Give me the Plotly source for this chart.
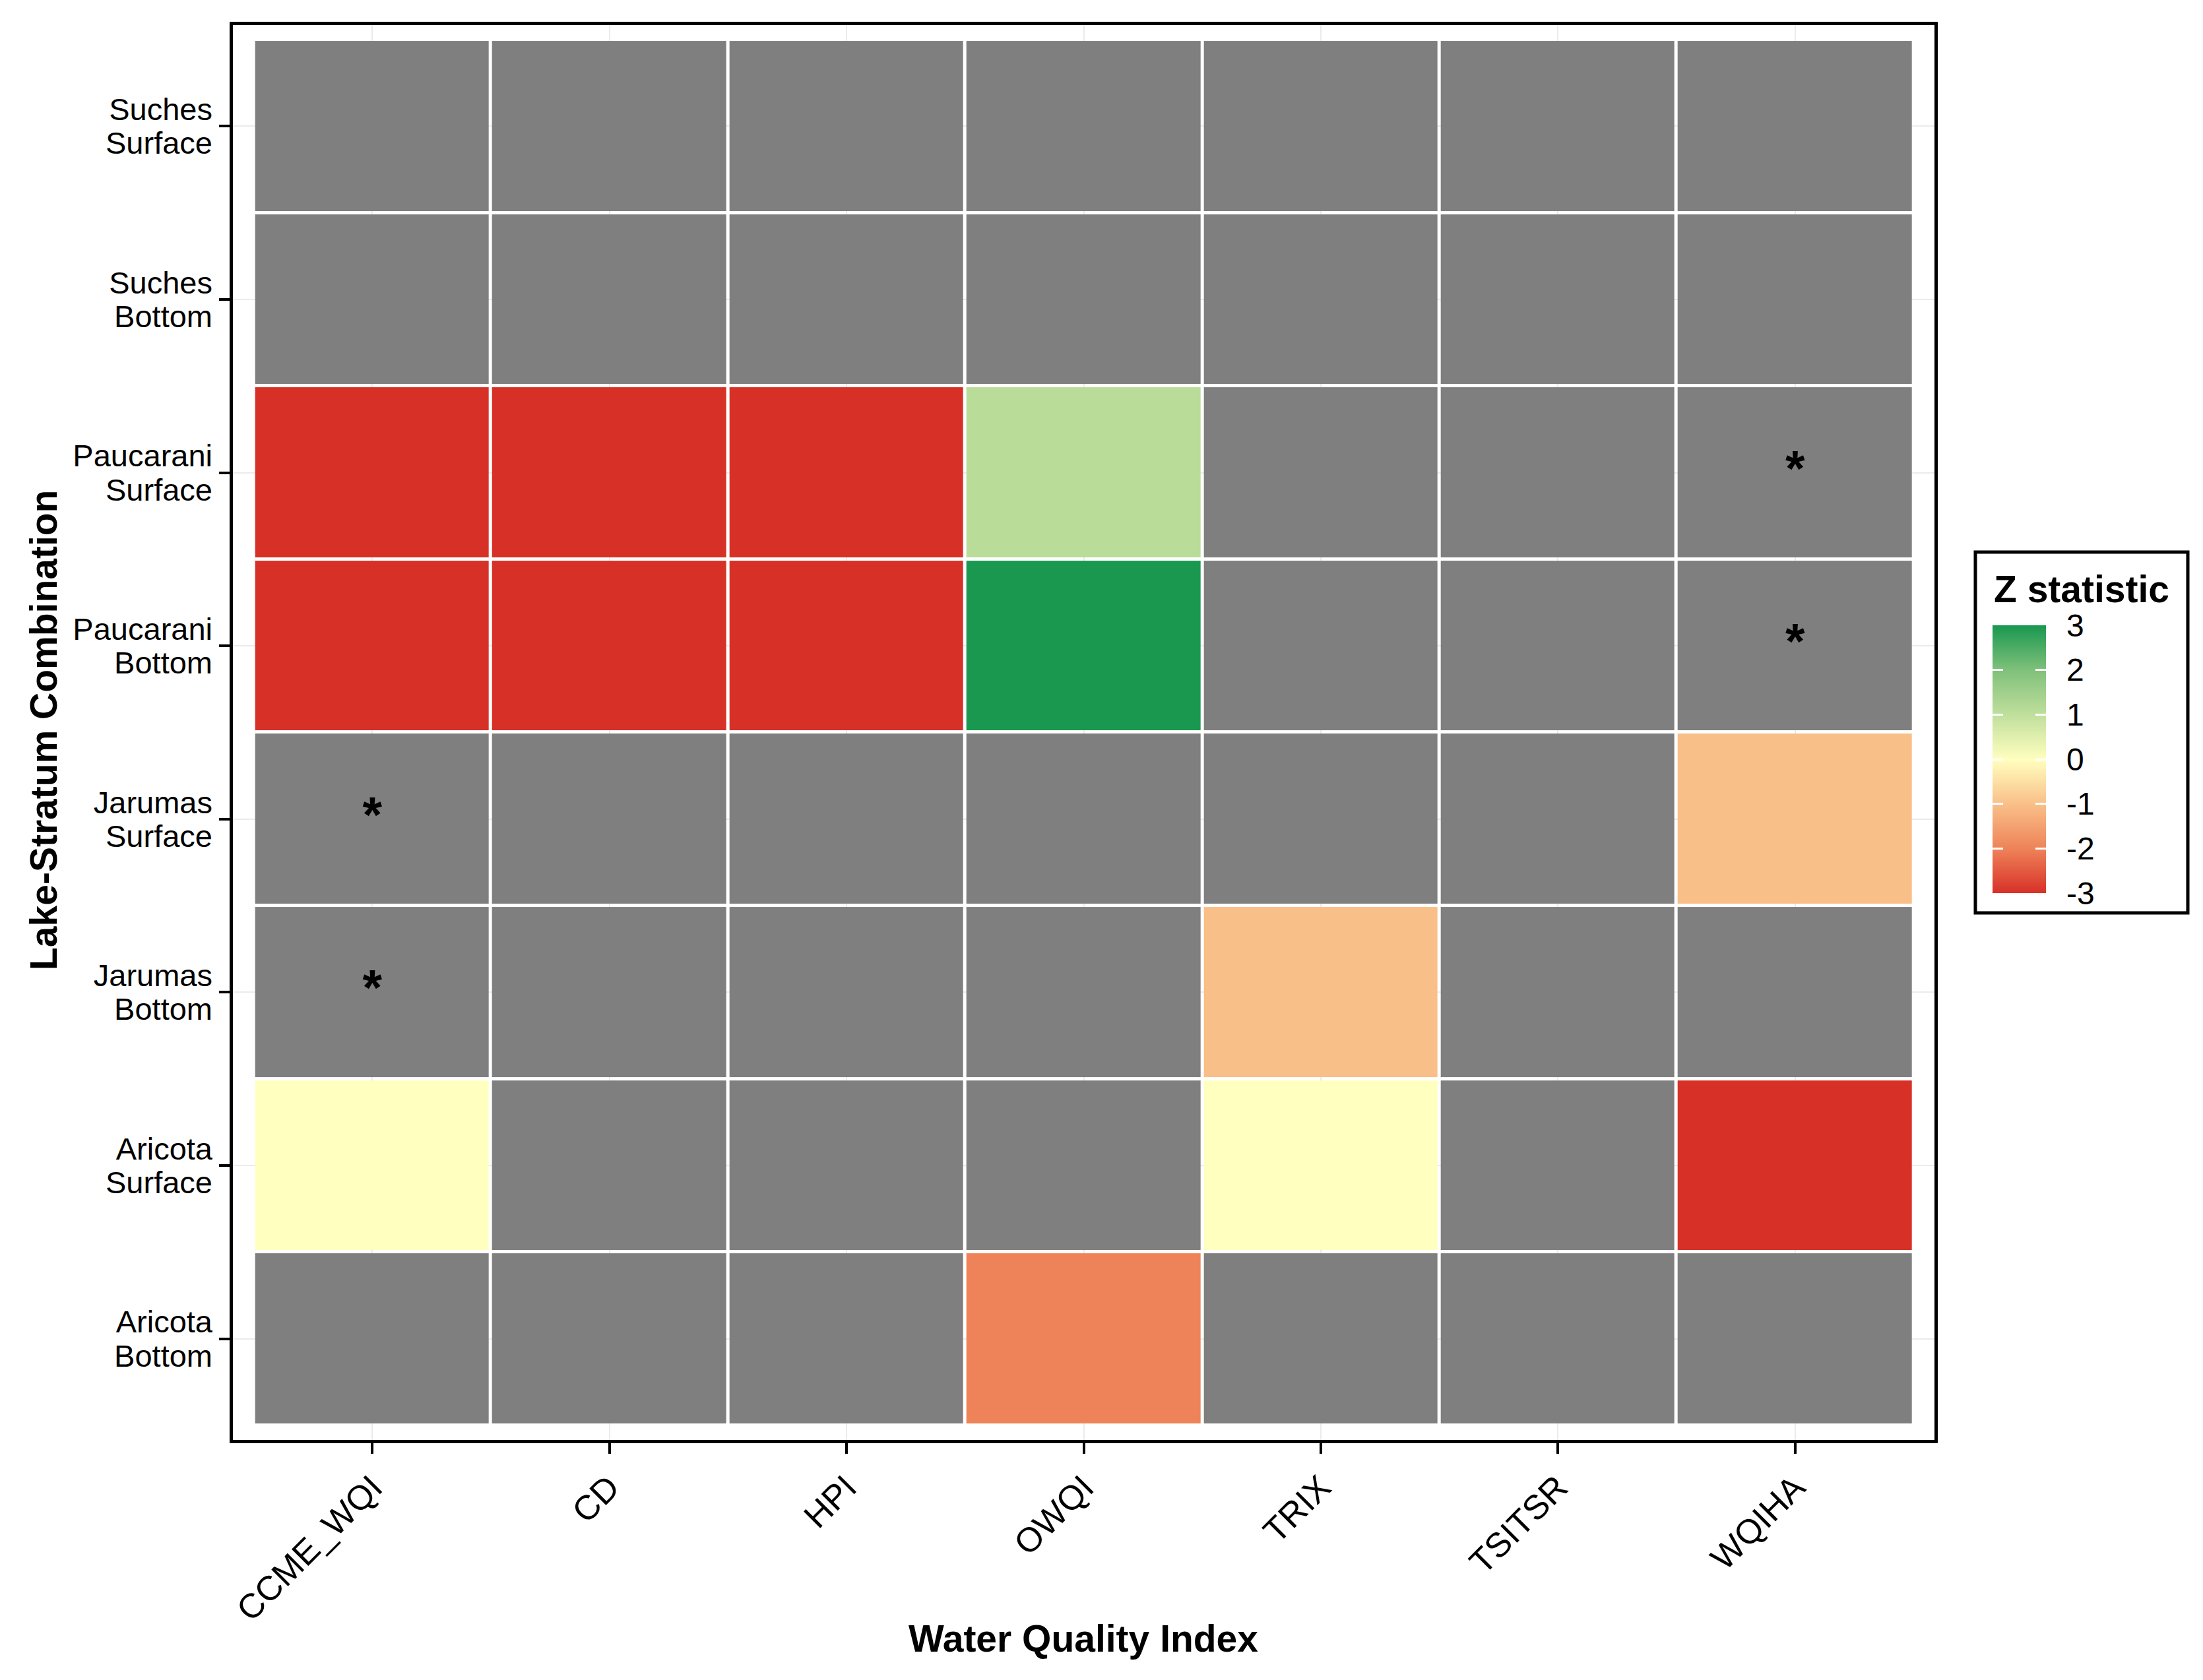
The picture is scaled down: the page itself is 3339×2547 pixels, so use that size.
#!/usr/bin/env python3
# -*- coding: utf-8 -*-
"""
Heatmap of Z statistics per lake/stratum and water quality index
"""
import plotly.graph_objects as go

indices = ["CCME_WQI", "CD", "HPI", "OWQI", "TRIX", "TSITSR", "WQIHA"]
lakes = [
    "Suches",
    "Suches",
    "Paucarani",
    "Paucarani",
    "Jarumas",
    "Jarumas",
    "Aricota",
    "Aricota",
]
layers = [
    "Surface",
    "Bottom",
    "Surface",
    "Bottom",
    "Surface",
    "Bottom",
    "Surface",
    "Bottom",
]
strata = [lake + " " + layer for lake, layer in zip(lakes, layers)]

# None = no test available (grey tile)
z_suches_surface = [None, None, None, None, None, None, None]
z_suches_bottom = [None, None, None, None, None, None, None]
z_paucarani_surface = [-3, -3, -3, 1.1, None, None, None]
z_paucarani_bottom = [-3, -3, -3, 3, None, None, None]
z_jarumas_surface = [None, None, None, None, None, None, -1]
z_jarumas_bottom = [None, None, None, None, -1, None, None]
z_aricota_surface = [0, None, None, None, 0, None, -3]
z_aricota_bottom = [None, None, None, -2, None, None, None]

z_rows = [
    z_suches_surface,
    z_suches_bottom,
    z_paucarani_surface,
    z_paucarani_bottom,
    z_jarumas_surface,
    z_jarumas_bottom,
    z_aricota_surface,
    z_aricota_bottom,
]

# significance stars
star_x = ["WQIHA", "WQIHA", "CCME_WQI", "CCME_WQI"]
star_y = [strata[2], strata[3], strata[4], strata[5]]

legend_vals = [-3, -2, -1, 0, 1, 2, 3]
legend_text = ["-3", "-2", "-1", "0", "1", "2", "3"]

W, H = 3339, 2547
PAGE_MARGIN = 8  # browser default body margin around the plot div
FONT = "Liberation Sans"
LABEL_LINE_GAP = 0.0975  # half the line distance of the y labels, in rows
Y_RANGE = [7.584, -0.584]

colorscale = [
    [0.0, "#d73027"],
    [1 / 6, "#ee8359"],
    [2 / 6, "#f9bf88"],
    [0.5, "#ffffbf"],
    [4 / 6, "#c0df9c"],
    [5 / 6, "#80c17b"],
    [1.0, "#1a9850"],
]
GREY = "#7f7f7f"


# pixel helpers, everything is laid out from the top left of the page
def fx(px):
    return (px - PAGE_MARGIN) / W


def fy(px):
    return 1 - (px - PAGE_MARGIN) / H


na_mask = [[1 if v is None else None for v in row] for row in z_rows]

fig = go.Figure()

fig.add_trace(
    go.Heatmap(
        z=na_mask,
        x=indices,
        y=strata,
        colorscale=[[0, GREY], [1, GREY]],
        showscale=False,
        xgap=5,
        ygap=5,
        hoverinfo="skip",
    )
)
fig.add_trace(
    go.Heatmap(
        z=z_rows,
        x=indices,
        y=strata,
        colorscale=colorscale,
        zmin=-3,
        zmax=3,
        showscale=False,
        xgap=5,
        ygap=5,
        hoverongaps=False,
    )
)
fig.add_trace(
    go.Scatter(
        x=star_x,
        y=star_y,
        mode="text",
        text=["<b>*</b>"] * len(star_x),
        textposition="middle center",
        textfont=dict(family=FONT, size=76, color="black"),
        showlegend=False,
        hoverinfo="skip",
    )
)

# the two-line row labels live on an overlaying axis, one tick per line,
# because <br> in a tick label can't get the tighter line spacing
fig.add_trace(
    go.Scatter(x=[], y=[], yaxis="y3", showlegend=False, hoverinfo="skip")
)
label_vals = []
label_text = []
for i, (lake, layer) in enumerate(zip(lakes, layers)):
    label_vals += [i - LABEL_LINE_GAP, i + LABEL_LINE_GAP]
    label_text += [lake, layer]

# colour legend: own small axes so the white ticks can sit on both sides
fig.add_trace(
    go.Heatmap(
        z=[[v, v] for v in legend_vals],
        x=[0, 1],
        y=legend_vals,
        colorscale=colorscale,
        zmin=-3,
        zmax=3,
        zsmooth="best",
        showscale=False,
        xaxis="x2",
        yaxis="y2",
        hoverinfo="skip",
    )
)

fig.update_layout(
    template="none",
    width=W,
    height=H,
    margin=dict(l=0, r=0, t=0, b=0, pad=0, autoexpand=False),
    paper_bgcolor="white",
    plot_bgcolor="white",
    font=dict(family=FONT, color="black"),
    showlegend=False,
    xaxis=dict(
        domain=[fx(353), fx(2932)],
        type="category",
        categoryorder="array",
        categoryarray=indices,
        range=[-0.588, 6.588],
        showline=True,
        mirror=True,
        linecolor="black",
        linewidth=4.5,
        ticks="outside",
        ticklen=16,
        tickwidth=4,
        tickcolor="black",
        tickangle=-45,
        tickfont=dict(family=FONT, size=52, color="black"),
        showgrid=True,
        gridcolor="#ebebeb",
        gridwidth=2,
        zeroline=False,
        automargin=False,
    ),
    yaxis=dict(
        domain=[fy(2183), fy(38)],
        type="category",
        categoryorder="array",
        categoryarray=strata,
        range=Y_RANGE,
        showline=True,
        mirror=True,
        linecolor="black",
        linewidth=4.5,
        ticks="outside",
        ticklen=16,
        tickwidth=4,
        tickcolor="black",
        showticklabels=False,
        showgrid=True,
        gridcolor="#ebebeb",
        gridwidth=2,
        zeroline=False,
        automargin=False,
    ),
    yaxis3=dict(
        domain=[fy(2183), fy(38)],
        overlaying="y",
        anchor="x",
        side="left",
        range=Y_RANGE,
        tickvals=label_vals,
        ticktext=label_text,
        ticks="",
        tickfont=dict(family=FONT, size=47, color="black"),
        ticklabelstandoff=30,
        showline=False,
        showgrid=False,
        zeroline=False,
        automargin=False,
    ),
    xaxis2=dict(
        domain=[fx(3020), fx(3101)],
        anchor="y2",
        range=[0, 1],
        visible=False,
        fixedrange=True,
        automargin=False,
    ),
    yaxis2=dict(
        domain=[fy(1354), fy(948)],
        anchor="x2",
        side="right",
        range=[-3, 3],
        tickvals=legend_vals,
        ticktext=legend_text,
        ticks="inside",
        ticklen=16,
        tickwidth=3,
        tickcolor="white",
        mirror="ticks",
        ticklabelstandoff=30,
        tickfont=dict(family=FONT, size=48, color="black"),
        showgrid=False,
        zeroline=False,
        fixedrange=True,
        automargin=False,
    ),
    shapes=[
        dict(
            type="rect",
            xref="paper",
            yref="paper",
            x0=fx(2994),
            x1=fx(3316),
            y0=fy(1384),
            y1=fy(837),
            line=dict(color="black", width=5),
            fillcolor="rgba(0,0,0,0)",
        )
    ],
    annotations=[
        dict(
            text="<b>Water Quality Index</b>",
            xref="paper",
            yref="paper",
            x=fx(1642),
            y=fy(2484),
            xanchor="center",
            yanchor="middle",
            showarrow=False,
            font=dict(family=FONT, size=57, color="black"),
        ),
        dict(
            text="<b>Lake-Stratum Combination</b>",
            xref="paper",
            yref="paper",
            x=fx(66),
            y=fy(1107),
            xanchor="center",
            yanchor="middle",
            textangle=-90,
            showarrow=False,
            font=dict(family=FONT, size=57, color="black"),
        ),
        dict(
            text="<b>Z statistic</b>",
            xref="paper",
            yref="paper",
            x=fx(3020),
            y=fy(893),
            xanchor="left",
            yanchor="middle",
            showarrow=False,
            font=dict(family=FONT, size=57, color="black"),
        ),
    ],
)

fig.write_html("out.html")
